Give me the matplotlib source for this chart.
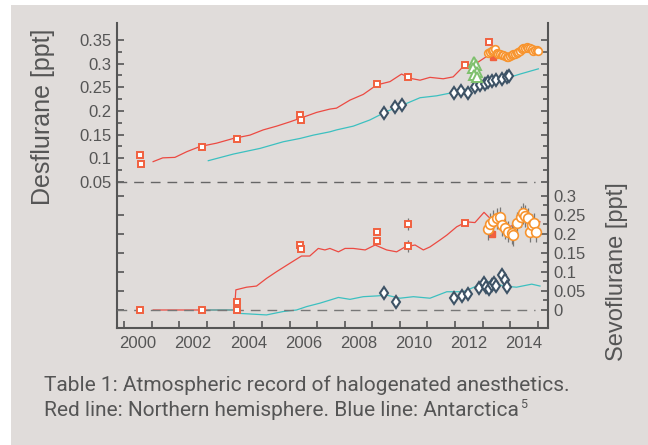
"""
Atmospheric record of desflurane (top) and sevoflurane (bottom),
Northern hemisphere vs Antarctica, redrawn from the figure.
"""

import matplotlib
matplotlib.use('Agg')
import matplotlib.pyplot as plt
from matplotlib.patches import Rectangle

# ---- desflurane (upper panel) ----
des_nh_year = [2000.55, 2000.9, 2001.34, 2001.77, 2002.25, 2002.85, 2003.46, 2004.06, 2004.54,
               2005.03, 2005.51, 2006.0, 2006.48, 2006.96, 2007.2, 2007.69, 2008.17, 2008.66,
               2009.14, 2009.56, 2009.87, 2010.23, 2010.59, 2011.07, 2011.43, 2011.8, 2012.28,
               2012.64, 2013.0, 2013.5, 2014.0, 2014.5]
des_nh_val = [0.093, 0.101, 0.102, 0.114, 0.125, 0.132, 0.142, 0.149, 0.160,
              0.168, 0.177, 0.187, 0.197, 0.204, 0.206, 0.223, 0.235, 0.255,
              0.262, 0.278, 0.269, 0.265, 0.271, 0.268, 0.272, 0.294, 0.301,
              0.315, 0.318, 0.312, 0.325, 0.330]

des_sh_year = [2002.55, 2003.46, 2004.43, 2005.27, 2005.88, 2006.36, 2006.96, 2007.2, 2007.81,
               2008.41, 2009.02, 2009.62, 2010.23, 2010.83, 2011.43, 2012.04, 2012.64, 2013.25,
               2013.86, 2014.52]
des_sh_val = [0.095, 0.109, 0.121, 0.135, 0.142, 0.149, 0.156, 0.160, 0.168,
              0.181, 0.199, 0.213, 0.228, 0.232, 0.239, 0.248, 0.258, 0.267,
              0.278, 0.289]

des_sq_year = [2000.07, 2000.1, 2002.31, 2003.58, 2005.88, 2005.9, 2008.68, 2009.81, 2011.86, 2012.73]
des_sq_val = [0.107, 0.089, 0.123, 0.141, 0.191, 0.181, 0.256, 0.271, 0.298, 0.346]
des_fill_year = [2012.86]
des_fill_val = [0.315]

des_dia_year = [2008.93, 2009.32, 2009.56, 2011.46, 2011.7, 2011.98, 2012.22, 2012.4, 2012.59,
                2012.71, 2012.83, 2013.0, 2013.19, 2013.37, 2013.46]
des_dia_val = [0.195, 0.208, 0.212, 0.239, 0.243, 0.237, 0.251, 0.255, 0.258,
               0.262, 0.264, 0.265, 0.268, 0.271, 0.274]

des_tri_year = [2012.2, 2012.25, 2012.15, 2012.3, 2012.18, 2012.28]
des_tri_val = [0.304, 0.297, 0.290, 0.283, 0.277, 0.271]

des_circ_year = [2012.71, 2012.77, 2012.83, 2012.89, 2012.95, 2013.01, 2013.07, 2013.13, 2013.19,
                 2013.25, 2013.31, 2013.37, 2013.43, 2013.49, 2013.55, 2013.61, 2013.67, 2013.73,
                 2013.8, 2013.86, 2013.92, 2013.98, 2014.04, 2014.1, 2014.16, 2014.22, 2014.28,
                 2014.34, 2014.4, 2014.46, 2014.52]
des_circ_val = [0.323, 0.325, 0.327, 0.329, 0.330, 0.323, 0.321, 0.320, 0.319,
                0.318, 0.316, 0.315, 0.313, 0.316, 0.318, 0.320, 0.321, 0.323,
                0.325, 0.327, 0.330, 0.332, 0.334, 0.336, 0.334, 0.332, 0.330,
                0.327, 0.328, 0.329, 0.326]

# ---- sevoflurane (lower panel) ----
sev_nh_year = [2000.55, 2003.5, 2003.55, 2003.94, 2004.3, 2004.66, 2005.03, 2005.51, 2005.93,
               2006.23, 2006.54, 2006.78, 2006.96, 2007.27, 2007.51, 2007.81, 2008.24, 2008.6,
               2009.02, 2009.38, 2009.69, 2010.05, 2010.35, 2010.59, 2010.95, 2011.2, 2011.56,
               2011.92, 2012.22, 2012.55, 2012.77, 2013.1, 2013.5, 2013.9, 2014.2, 2014.58]
sev_nh_val = [0.0, 0.0, 0.053, 0.060, 0.063, 0.083, 0.101, 0.123, 0.142,
              0.142, 0.162, 0.158, 0.162, 0.153, 0.162, 0.162, 0.158, 0.171,
              0.158, 0.153, 0.166, 0.171, 0.158, 0.166, 0.184, 0.197, 0.219,
              0.232, 0.230, 0.257, 0.241, 0.235, 0.220, 0.230, 0.240, 0.232]

sev_sh_year = [2002.55, 2003.5, 2003.69, 2004.66, 2005.27, 2005.75, 2006.12, 2006.6, 2006.96,
               2007.27, 2007.69, 2008.17, 2008.66, 2009.02, 2009.5, 2009.99, 2010.59, 2011.2,
               2011.8, 2012.28, 2012.77, 2013.25, 2013.73, 2014.28, 2014.58]
sev_sh_val = [0.0, 0.0, -0.009, -0.013, -0.004, 0.0, 0.009, 0.018, 0.026,
              0.033, 0.028, 0.035, 0.037, 0.039, 0.031, 0.035, 0.031, 0.048,
              0.048, 0.063, 0.075, 0.063, 0.060, 0.068, 0.063]

sev_sq_year = [2000.07, 2002.31, 2003.58, 2003.58, 2005.88, 2005.91, 2008.68, 2008.68, 2011.86]
sev_sq_val = [0.0, 0.0, 0.0, 0.022, 0.170, 0.160, 0.204, 0.182, 0.230]
sev_sq_err_year = [2009.81, 2009.81]
sev_sq_err_val = [0.226, 0.168]
sev_fill_year = [2012.85]
sev_fill_val = [0.199]

sev_dia_year = [2008.93, 2009.35, 2011.46, 2011.74, 2011.98, 2012.38, 2012.56, 2012.61, 2012.72,
                2012.83, 2012.92, 2013.0, 2013.2, 2013.3, 2013.4]
sev_dia_val = [0.044, 0.021, 0.031, 0.037, 0.042, 0.057, 0.070, 0.060, 0.054,
               0.066, 0.072, 0.063, 0.092, 0.079, 0.060]

sev_circ_year = [2012.71, 2012.77, 2012.87, 2013.01, 2013.13, 2013.19, 2013.31, 2013.43, 2013.55,
                 2013.61, 2013.75, 2013.9, 2013.98, 2014.05, 2014.13, 2014.2, 2014.3, 2014.37,
                 2014.45]
sev_circ_val = [0.212, 0.226, 0.235, 0.241, 0.244, 0.224, 0.215, 0.206, 0.202,
                0.197, 0.230, 0.246, 0.254, 0.247, 0.241, 0.206, 0.224, 0.228, 0.206]

year_labels = [2000, 2002, 2004, 2006, 2008, 2010, 2012, 2014]
des_ticks = [0.05, 0.1, 0.15, 0.2, 0.25, 0.3, 0.35]
des_tick_labels = ['0.05', '0.1', '0.15', '0.2', '0.25', '0.3', '0.35']
sev_ticks = [0, 0.05, 0.1, 0.15, 0.2, 0.25, 0.3]
sev_tick_labels = ['0', '0.05', '0.1', '0.15', '0.2', '0.25', '0.3']

# colours
BG = '#e0dcda'
INK = '#555555'
RED = '#ec4a42'
SQ = '#f1603f'
CYAN = '#3cc0c0'
SLATE = '#3e5366'
GREEN = '#7fc06e'
ORANGE = '#f7942f'
ERR = '#777777'

plt.rcParams['font.family'] = ['Liberation Sans', 'DejaVu Sans']

fig = plt.figure(figsize=(6.48, 4.45), dpi=100)
fig.patch.set_facecolor('white')
fig.patches.append(Rectangle((11 / 648, 0), 1, 1 - 5 / 445, transform=fig.transFigure,
                             facecolor=BG, edgecolor='none', zorder=-10))

left, right = 117 / 648, 548 / 648
y_top, y_mid, y_bot = 1 - 23 / 445, 1 - 182 / 445, 1 - 328 / 445
ax_d = fig.add_axes([left, y_mid, right - left, y_top - y_mid])
ax_s = fig.add_axes([left, y_bot, right - left, y_mid - y_bot], sharex=ax_d)

for ax in (ax_d, ax_s):
    ax.set_facecolor('none')
    ax.spines['top'].set_visible(False)
    for side in ('left', 'right', 'bottom'):
        ax.spines[side].set_color(INK)
        ax.spines[side].set_linewidth(1.5)
ax_d.spines['bottom'].set_visible(False)

ax_d.set_xlim(1999.24, 2014.87)
ax_d.set_ylim(0.05, 0.3858)
ax_s.set_ylim(-0.0474, 0.3368)

sq_kw = dict(ls='none', marker='s', ms=4.6, mfc='white', mec=SQ, mew=1.4, zorder=5)
dia_kw = dict(ls='none', marker='d', ms=6.5, mfc='white', mec=SLATE, mew=1.5, zorder=5)

# upper panel
ax_d.plot(des_nh_year, des_nh_val, color=RED, lw=0.9, zorder=3)
ax_d.plot(des_sh_year, des_sh_val, color=CYAN, lw=0.9, zorder=3)
ax_d.plot(des_sq_year, des_sq_val, **sq_kw)
ax_d.plot(des_fill_year, des_fill_val, ls='none', marker='s', ms=5, color=SQ, zorder=5)
ax_d.plot(des_dia_year, des_dia_val, **dia_kw)
ax_d.plot(des_tri_year, des_tri_val, ls='none', marker='^', ms=6.5, mfc='white', mec=GREEN,
          mew=1.4, zorder=5)
ax_d.errorbar(des_circ_year, des_circ_val, yerr=0.007, fmt='o', ms=5.5, mfc='white', mec=ORANGE,
              mew=1.2, ecolor=ERR, elinewidth=0.8, capsize=0, zorder=6)
ax_d.axhline(0.05, xmax=0.97, color='#666666', lw=1, dashes=(7, 5), clip_on=False, zorder=2)

# lower panel
ax_s.plot(sev_nh_year, sev_nh_val, color=RED, lw=0.9, zorder=3)
ax_s.plot(sev_sh_year, sev_sh_val, color=CYAN, lw=0.9, zorder=3)
ax_s.axhline(0, xmax=0.97, color='#777777', lw=1, dashes=(7, 5), zorder=4)
ax_s.plot(sev_sq_year, sev_sq_val, **sq_kw)
ax_s.errorbar(sev_sq_err_year, sev_sq_err_val, yerr=0.015, fmt='s', ms=4.6, mfc='white', mec=SQ,
              mew=1.4, ecolor=ERR, elinewidth=0.9, capsize=0, zorder=5)
ax_s.plot(sev_fill_year, sev_fill_val, ls='none', marker='s', ms=5, color=SQ, zorder=5)
ax_s.plot(sev_dia_year, sev_dia_val, **dia_kw)
ax_s.errorbar(sev_circ_year, sev_circ_val, yerr=0.028, fmt='o', ms=7, mfc='white', mec=ORANGE,
              mew=1.2, ecolor=ERR, elinewidth=0.9, capsize=0, zorder=6)

# ticks
ax_d.set_yticks(des_ticks, des_tick_labels)
ax_d.set_yticks([t + 0.025 for t in des_ticks[:-1]], minor=True)
ax_d.tick_params(axis='y', which='both', direction='in', left=True, right=True,
                 labelleft=True, labelright=False, colors=INK, labelsize=12, pad=4)
ax_d.tick_params(axis='y', which='major', length=5, width=1.2)
ax_d.tick_params(axis='y', which='minor', length=3.5, width=1.2)
ax_d.tick_params(axis='x', which='both', bottom=False, labelbottom=False)

ax_s.set_yticks(sev_ticks, sev_tick_labels)
ax_s.set_yticks([t + 0.025 for t in sev_ticks[:-1]], minor=True)
ax_s.tick_params(axis='y', which='both', direction='in', left=True, right=True,
                 labelleft=False, labelright=True, colors=INK, labelsize=12, pad=4)
ax_s.tick_params(axis='y', which='major', length=5, width=1.2)
ax_s.tick_params(axis='y', which='minor', left=False, length=3.5, width=1.2)

ax_s.set_xticks(year_labels, [str(y) for y in year_labels])
ax_s.set_xticks([y + 0.5 for y in range(1999, 2015)], minor=True)
ax_s.tick_params(axis='x', which='major', length=0, colors=INK, labelsize=12, pad=6)
ax_s.tick_params(axis='x', which='minor', direction='in', length=5, width=1.2, color=INK)

fig.text(43 / 648, 1 - 117 / 445, 'Desflurane [ppt]', rotation=90, ha='center', va='center',
         fontsize=18, color=INK)
fig.text(617 / 648, 1 - 272 / 445, 'Sevoflurane [ppt]', rotation=90, ha='center', va='center',
         fontsize=17, color=INK)

cap_kw = dict(fontsize=15, color=INK, family=['Roboto', 'DejaVu Sans'], va='center', ha='left')
fig.text(44 / 648, 1 - 385 / 445, 'Table 1: Atmospheric record of halogenated anesthetics.', **cap_kw)
line2 = fig.text(44 / 648, 1 - 411 / 445, 'Red line: Northern hemisphere. Blue line: Antarctica',
                 **cap_kw)

# small raised footnote mark right after the second caption line
fig.canvas.draw()
bb = line2.get_window_extent()
fig.text((bb.x1 + 1) / 648, 1 - 405 / 445, '5', fontsize=9, color=INK,
         family=['Roboto', 'DejaVu Sans'], va='center', ha='left')

fig.savefig('out.png', dpi=100, facecolor=fig.get_facecolor())
